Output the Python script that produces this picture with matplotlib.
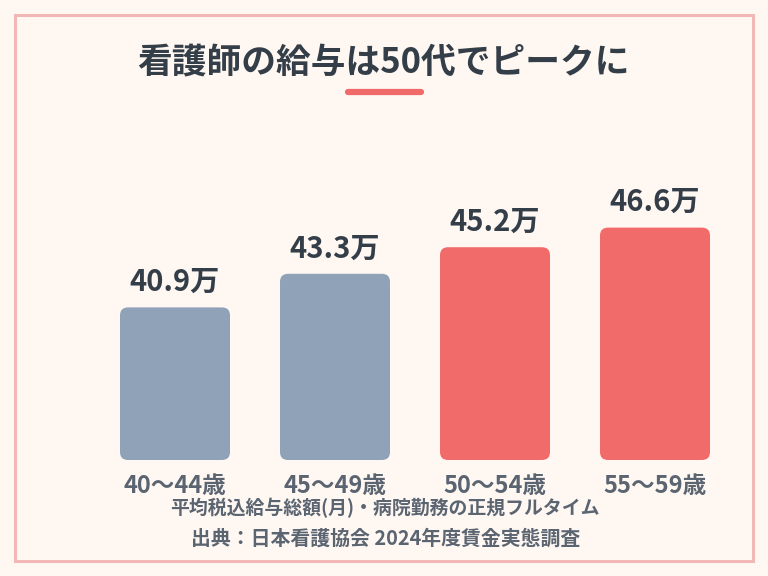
import matplotlib
matplotlib.use("Agg")
import matplotlib.pyplot as plt
from matplotlib.patches import FancyBboxPatch, Rectangle
from matplotlib.lines import Line2D

plt.rcParams['font.family'] = ['Noto Sans CJK JP', 'DejaVu Sans']

# data
age_groups = ["40〜44歳", "45〜49歳", "50〜54歳", "55〜59歳"]
salary = [40.9, 43.3, 45.2, 46.6]
bar_colors = ["#8fa2b7", "#8fa2b7", "#f26b6b", "#f26b6b"]
title = "看護師の給与は50代でピークに"
note = "平均税込給与総額(月)・病院勤務の正規フルタイム"
source = "出典：日本看護協会 2024年度賃金実態調査"

W, H = 768, 576
bg = "#fff8f2"
text_dark = "#343e48"
text_gray = "#5b6471"

fig = plt.figure(figsize=(W / 100, H / 100), dpi=100, facecolor=bg)

# border
fig.patches.append(Rectangle((15 / W, 15 / H), (W - 30) / W, (H - 30) / H,
                             transform=fig.transFigure, fill=False,
                             edgecolor="#f2b8b5", linewidth=2.2))

# title + accent line
fig.text(383 / W, 1 - 62 / H, title, ha="center", va="center",
         fontsize=25, fontweight="bold", color=text_dark)
fig.add_artist(Line2D([348 / W, 421 / W], [1 - 92 / H, 1 - 92 / H],
                      transform=fig.transFigure, color="#f06a6a",
                      linewidth=4.5, solid_capstyle="round"))

# plot area
ax_left, ax_right, ax_top, ax_bottom = 95, 735, 130, 460
ax = fig.add_axes([ax_left / W, 1 - ax_bottom / H,
                   (ax_right - ax_left) / W, (ax_bottom - ax_top) / H])
ax.set_facecolor("none")
ymin = 30
px_per_unit = 14
ax.set_xlim(-0.5, 3.5)
ax.set_ylim(ymin, ymin + (ax_bottom - ax_top) / px_per_unit)
ax.axis("off")

bar_w = 110 / 160
radius = 8 / 160
aspect = 160 / px_per_unit
for i, (v, c) in enumerate(zip(salary, bar_colors)):
    p = FancyBboxPatch((i - bar_w / 2, ymin), bar_w, v - ymin,
                       boxstyle=f"round,pad=0,rounding_size={radius}",
                       mutation_aspect=aspect, facecolor=c, edgecolor="none")
    ax.add_patch(p)
    ax.text(i, v + 0.75, f"{v}万", ha="center", va="bottom",
            fontsize=21, fontweight="bold", color=text_dark)
    ax.text(i, ymin - 1.85, age_groups[i], ha="center", va="center",
            fontsize=17, fontweight="bold", color=text_gray, clip_on=False)

fig.text(385 / W, 1 - 508 / H, note, ha="center", va="center",
         fontsize=13.6, fontweight="bold", color=text_gray)
fig.text(386 / W, 1 - 538 / H, source, ha="center", va="center",
         fontsize=14.3, fontweight="bold", color=text_gray)

fig.savefig("out.png", dpi=100, facecolor=bg)
